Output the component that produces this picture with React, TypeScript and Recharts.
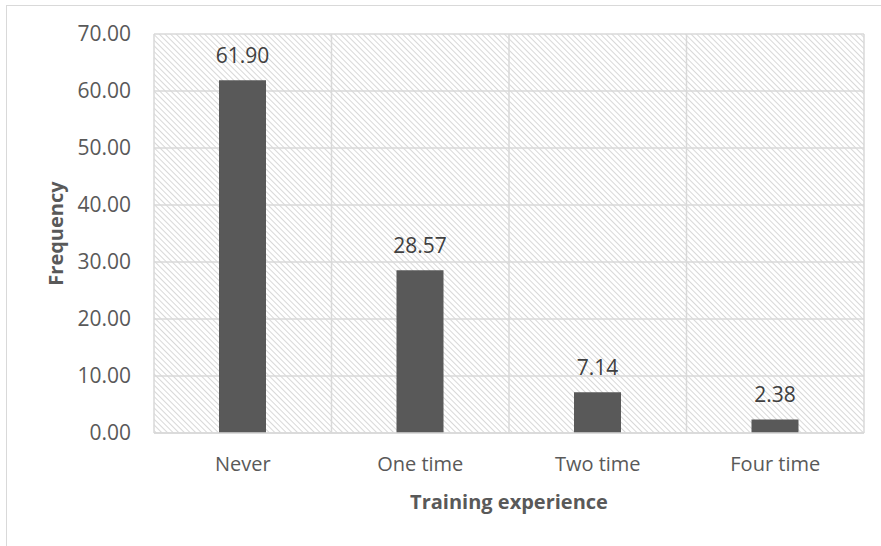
import React from "react";
import {
  BarChart,
  Bar,
  XAxis,
  YAxis,
  CartesianGrid,
  LabelList,
  Label,
} from "recharts";

const categories = ["Never", "One time", "Two time", "Four time"];
const frequency = [61.9, 28.57, 7.14, 2.38];
const yTicks = [0, 10, 20, 30, 40, 50, 60, 70];

const data = categories.map((name, i) => ({ name, value: frequency[i] }));

const font = "'Open Sans', sans-serif";
const textColor = "#595959";
const gridColor = "#d9d9d9";

export default function App() {
  return (
    <div
      style={{
        position: "absolute",
        left: 0,
        top: 0,
        width: 881,
        height: 546,
        overflow: "hidden",
        background: "#fff",
      }}
    >
      <div
        style={{
          position: "absolute",
          left: 6,
          top: 5,
          width: 1000,
          height: 1000,
          borderTop: `1.5px solid ${gridColor}`,
          borderLeft: `1.5px solid ${gridColor}`,
        }}
      />
      <BarChart
        width={881}
        height={546}
        data={data}
        margin={{ top: 34, right: 17, bottom: 0, left: 0 }}
        style={{ position: "absolute", left: 0, top: 0, fontFamily: font }}
      >
        <defs>
          <pattern
            id="hatch"
            patternUnits="userSpaceOnUse"
            width={4}
            height={4}
            patternTransform="rotate(-45)"
          >
            <rect width={4} height={4} fill="#fff" />
            <line x1={0} y1={0} x2={0} y2={4} stroke="#c8c8c8" strokeWidth={1.4} />
          </pattern>
        </defs>
        <CartesianGrid
          fill="url(#hatch)"
          fillOpacity={1}
          stroke={gridColor}
          strokeWidth={1.5}
          verticalCoordinatesGenerator={({ offset }: any) =>
            categories
              .map((_c, i) => offset.left + (i * offset.width) / categories.length)
              .concat(offset.left + offset.width)
          }
        />
        <XAxis
          dataKey="name"
          height={113}
          axisLine={{ stroke: gridColor, strokeWidth: 1.5 }}
          tickLine={false}
          tickSize={0}
          tickMargin={24}
          tick={{ fill: textColor, fontSize: 20, fontFamily: font }}
        >
          <Label
            content={({ viewBox }: any) => (
              <text
                x={viewBox.x + viewBox.width / 2}
                y={509}
                textAnchor="middle"
                fill={textColor}
                fontSize={20}
                fontWeight="bold"
                fontFamily={font}
              >
                Training experience
              </text>
            )}
          />
        </XAxis>
        <YAxis
          width={154}
          domain={[0, 70]}
          ticks={yTicks}
          interval={0}
          axisLine={false}
          tickLine={false}
          tickSize={0}
          tickMargin={23}
          tickFormatter={(v: number) => v.toFixed(2)}
          tick={{ fill: textColor, fontSize: 21, fontFamily: font }}
        >
          <Label
            content={({ viewBox }: any) => {
              const cx = viewBox.x + 63;
              const cy = viewBox.y + viewBox.height / 2;
              return (
                <text
                  x={cx}
                  y={cy}
                  transform={`rotate(-90, ${cx}, ${cy})`}
                  textAnchor="middle"
                  fill={textColor}
                  fontSize={20}
                  fontWeight="bold"
                  fontFamily={font}
                >
                  Frequency
                </text>
              );
            }}
          />
        </YAxis>
        <Bar dataKey="value" fill="#595959" barSize={47} isAnimationActive={false}>
          <LabelList
            dataKey="value"
            position="top"
            offset={17}
            formatter={(v: any) => Number(v).toFixed(2)}
            fill="#404040"
            fontSize={21}
            fontFamily={font}
          />
        </Bar>
      </BarChart>
    </div>
  );
}
